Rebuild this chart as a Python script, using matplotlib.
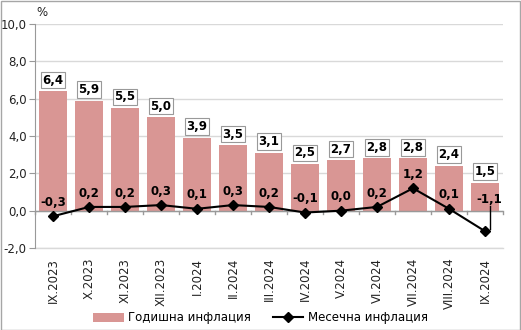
import matplotlib
matplotlib.use("Agg")
import matplotlib.pyplot as plt
from matplotlib.patches import Rectangle
import numpy as np

categories = ["IX.2023", "X.2023", "XI.2023", "XII.2023", "I.2024", "II.2024", "III.2024",
              "IV.2024", "V.2024", "VI.2024", "VII.2024", "VIII.2024", "IX.2024"]
annual = [6.4, 5.9, 5.5, 5.0, 3.9, 3.5, 3.1, 2.5, 2.7, 2.8, 2.8, 2.4, 1.5]
monthly = [-0.3, 0.2, 0.2, 0.3, 0.1, 0.3, 0.2, -0.1, 0.0, 0.2, 1.2, 0.1, -1.1]
yticks = [-2, 0, 2, 4, 6, 8, 10]

def fmt(v):
    return f"{v:.1f}".replace(".", ",")

plt.rcParams['font.family'] = ['DejaVu Sans']
fig = plt.figure(figsize=(5.21, 3.30), dpi=100)
ax = fig.add_axes([35/521, 1-248/330, (503-35)/521, (248-24)/330])

x = np.arange(len(categories))
bar_color = "#D99694"
bars = ax.bar(x, annual, width=0.78, color=bar_color, zorder=2, label="Годишна инфлация")
line, = ax.plot(x, monthly, color="black", lw=1.5, marker="D", ms=5, zorder=4, label="Месечна инфлация")

ax.set_xlim(-0.5, len(categories) - 0.5)
ax.set_ylim(-2, 10)
ax.set_yticks(yticks)
ax.set_yticklabels([fmt(v) for v in yticks], fontsize=8.5, color="#222222")
ax.grid(axis="y", color="#D9D9D9", lw=1, zorder=0)
ax.tick_params(axis="y", length=4, color="#999999", pad=2)
for s in ["top", "right", "bottom"]:
    ax.spines[s].set_visible(False)
ax.spines["left"].set_color("#999999")
ax.axhline(-2, color="#D9D9D9", lw=1, zorder=0, clip_on=False)

# x axis at zero with ticks between categories
ax.axhline(0, color="#999999", lw=1, zorder=3)
for b in np.arange(-0.5, len(categories) + 0.5, 1):
    ax.plot([b, b], [0, -0.2], color="#999999", lw=1, zorder=3, clip_on=False)
ax.set_xticks(x)
ax.set_xticklabels(categories, rotation=90, fontsize=8.5, color="#222222")
ax.tick_params(axis="x", length=0, pad=7)

# annual labels
for xi, v in zip(x, annual):
    ax.annotate(fmt(v), (xi, v), xytext=(0, 8), textcoords="offset points",
                ha="center", va="center", fontsize=8.5, fontweight="bold", zorder=5,
                bbox=dict(boxstyle="square,pad=0.15", fc="white", ec="#999999", lw=0.8))

# monthly labels
for xi, v in zip(x, monthly):
    if xi == len(categories) - 1:
        lx = xi + 0.13
        ax.plot([lx, lx], [v + 0.1, 0.25], color="black", lw=1, zorder=5)
        ax.text(lx, 0.6, fmt(v), ha="center", va="center", fontsize=8.5,
                fontweight="bold", zorder=5)
    else:
        ax.annotate(fmt(v), (xi, v), xytext=(0, 10), textcoords="offset points",
                    ha="center", va="center", fontsize=8.5, fontweight="bold", zorder=5)

fig.text(36/521, 1-12/330, "%", fontsize=8.5, ha="left", va="center", color="#222222")

leg = fig.legend([bars, line], ["Годишна инфлация", "Месечна инфлация"],
                 loc="center", bbox_to_anchor=(0.5, 1-318/330), ncol=2, frameon=False,
                 fontsize=8.5, handlelength=2.6, columnspacing=1.8, handletextpad=0.4)

fig.patches.append(Rectangle((0.5/521, 0.5/330), 1-1.5/521, 1-1.5/330, transform=fig.transFigure,
                             fill=False, ec="#A6A6A6", lw=1))

fig.savefig("out.png", dpi=100)
